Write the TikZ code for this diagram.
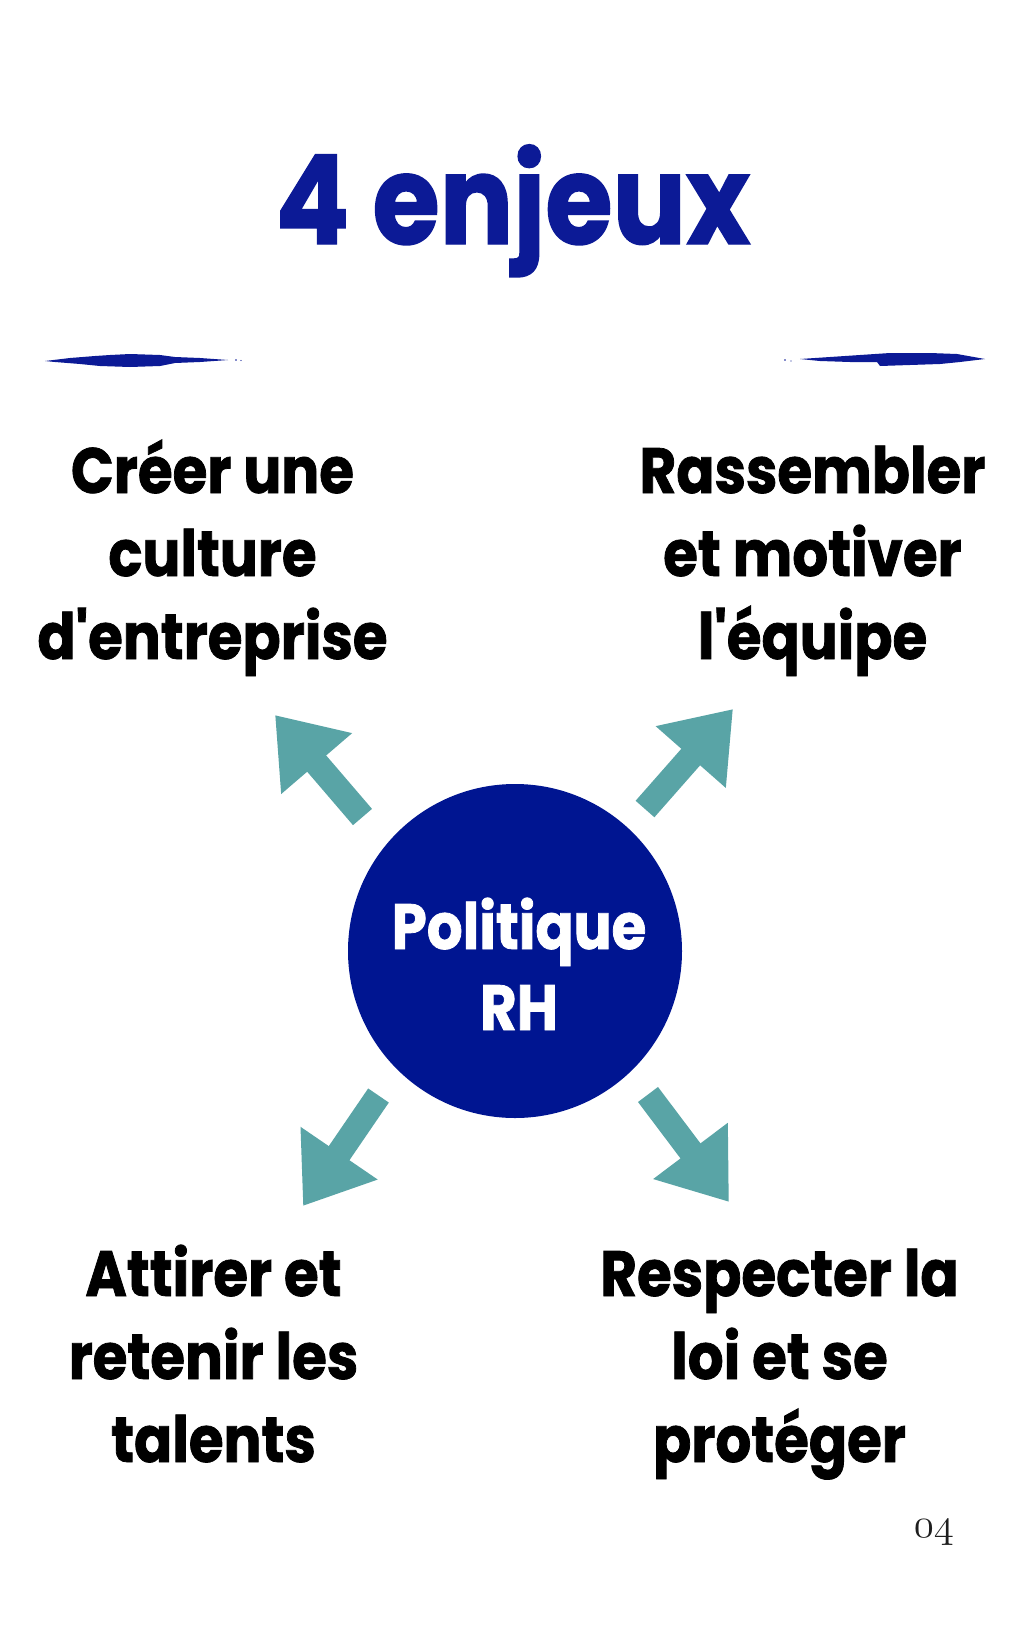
\documentclass[tikz,border=0pt]{standalone}
\usepackage{fontspec}
\usetikzlibrary{arrows.meta}
\newfontfamily\pop{Poppins}[FakeStretch=0.88, BoldFeatures={FakeBold=1.2}]
\definecolor{titleblue}{RGB}{12,26,150}
\definecolor{hubblue}{RGB}{0,21,145}
\definecolor{arrowteal}{RGB}{89,164,166}
\definecolor{pagegray}{RGB}{30,30,30}
\tikzset{
  titletext/.style={font={\pop\bfseries\fontsize{124}{130}\selectfont}, text=titleblue, inner sep=0pt},
  labeltext/.style={font={\pop\bfseries\fontsize{64}{83}\selectfont}, text=black, align=center, inner sep=0pt, anchor=base},
  hub/.style={circle, fill=hubblue, minimum size=334pt, inner sep=0pt},
  hubtext/.style={font={\pop\bfseries\fontsize{64}{81}\selectfont}, text=white, align=center, inner sep=0pt, anchor=base},
  bigarrow/.style={draw=arrowteal, line width=25pt, line cap=butt, -{Triangle[length=64pt,width=89pt]}},
  brush/.style={fill=titleblue, draw=none},
  pagenum/.style={font={\fontsize{24.88}{28}\selectfont}, text=pagegray, inner sep=0pt, anchor=base}
}
\begin{document}
\begin{tikzpicture}[x=1pt,y=-1pt]
\path[use as bounding box, fill=white] (0,0) rectangle (1024,1635);

% title
\node[titletext, anchor=base] (title) at (513,244) {4 enjeux};

% brush strokes
\path[brush] (45,361) -- (70,358) -- (95,356) -- (110,355) -- (130,354) -- (160,355) -- (175,357)
  -- (200,358) -- (228,360) -- (200,362) -- (175,363) -- (160,366) -- (130,367) -- (100,366)
  -- (80,364) -- (55,362) -- cycle;
\path[brush] (236,360) circle (0.9) (241,360.5) circle (0.7);
\path[brush] (800,359) -- (830,357) -- (860,355) -- (890,353) -- (930,353) -- (957,354) -- (985,359)
  -- (960,362) -- (940,364) -- (910,365) -- (880,366) -- (877,362) -- (850,362) -- (820,361) -- cycle;
\path[brush] (785,360) circle (0.9) (791,361) circle (0.7);

% central hub
\node[hub] (rh) at (515,951) {};
\node[hubtext] (rhtext) at (519,1030) {Politique\\RH};

% labels (anchor = baseline of last line)
\node[labeltext] (l1) at (212.5,659) {Créer une\\culture\\d'entreprise};
\node[labeltext] (l2) at (812.5,659) {Rassembler\\et motiver\\l'équipe};
\node[labeltext] (l3) at (213.5,1462) {Attirer et\\retenir les\\talents};
\node[labeltext] (l4) at (779.5,1462) {Respecter la\\loi et se\\protéger};

% arrows
\coordinate (a1s) at (362.5,817);  \coordinate (a1e) at (275,715);
\coordinate (a2s) at (645,809);    \coordinate (a2e) at (733,709);
\coordinate (a3s) at (378.5,1095.5); \coordinate (a3e) at (303,1206);
\coordinate (a4s) at (648,1094.5); \coordinate (a4e) at (729,1202);
\draw[bigarrow] (a1s) -- (a1e);
\draw[bigarrow] (a2s) -- (a2e);
\draw[bigarrow] (a3s) -- (a3e);
\draw[bigarrow] (a4s) -- (a4e);

% page number
\node[pagenum] (pn) at (934,1537) {\scalebox{1.65}{$\mathnormal{04}$}};
\end{tikzpicture}
\end{document}
